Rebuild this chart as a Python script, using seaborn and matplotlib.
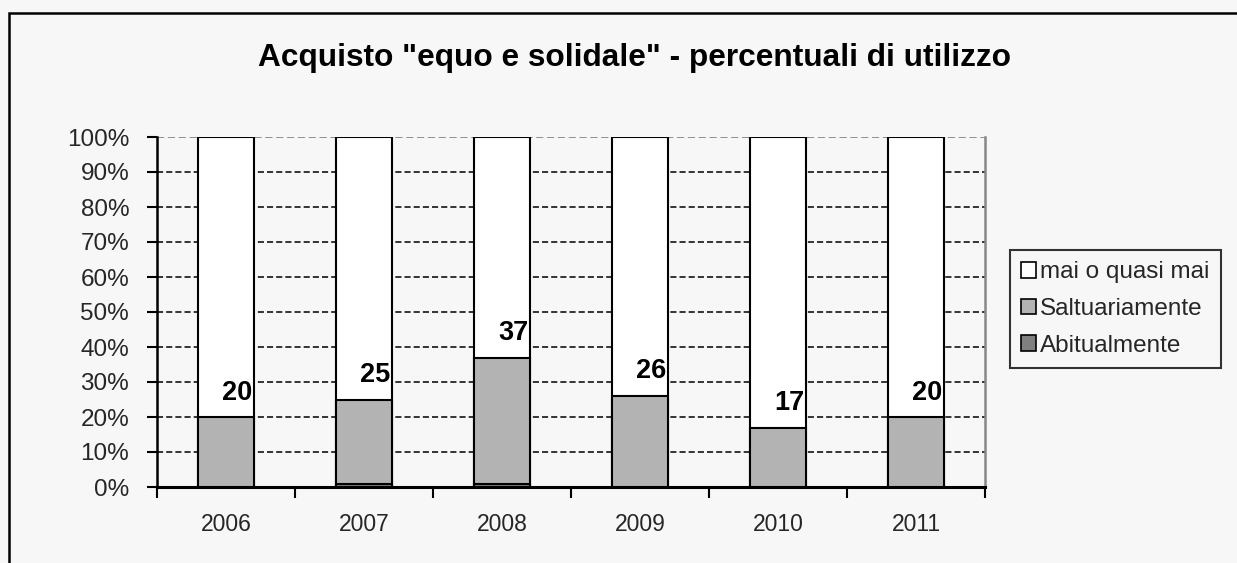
import matplotlib
matplotlib.use("Agg")
import matplotlib.pyplot as plt
import seaborn as sns
import pandas as pd
from matplotlib.patches import Rectangle, Patch
from matplotlib.ticker import FixedLocator, PercentFormatter

years = ["2006", "2007", "2008", "2009", "2010", "2011"]
abitualmente = [0, 1, 1, 0, 0, 0]
saltuariamente = [20, 24, 36, 26, 17, 20]
mai = [80, 75, 63, 74, 83, 80]
labels = [20, 25, 37, 26, 17, 20]
series_names = ["mai o quasi mai", "Saltuariamente", "Abitualmente"]
title = 'Acquisto "equo e solidale" - percentuali di utilizzo'

bg = "#f7f7f7"
c_mai, c_salt, c_abit = "#ffffff", "#b3b3b3", "#808080"

sns.set_theme(style="white")
plt.rcParams["font.family"] = ["Liberation Sans", "DejaVu Sans"]

df = pd.DataFrame({
    "year": years,
    "abit": abitualmente,
    "salt": saltuariamente,
    "mai": mai,
})
df["top_salt"] = df["abit"] + df["salt"]
df["top_mai"] = df["top_salt"] + df["mai"]

fig = plt.figure(figsize=(12.37, 5.63), dpi=100, facecolor=bg)
ax = fig.add_axes([157/1237, 1-487/563, (985-157)/1237, (487-137)/563])
ax.set_facecolor(bg)

kw = dict(width=0.405, edgecolor="black", linewidth=1.5, ax=ax, zorder=3)
sns.barplot(data=df, x="year", y="top_mai", color=c_mai, saturation=1, **kw)
sns.barplot(data=df, x="year", y="top_salt", color=c_salt, saturation=1, **kw)
sns.barplot(data=df, x="year", y="abit", color=c_abit, saturation=1, **kw)
for p in ax.patches:
    if p.get_height() == 0:
        p.set_visible(False)

for i, (lab, tot) in enumerate(zip(labels, df["top_salt"])):
    ax.text(i + 0.08, tot + 7, str(lab), ha="center", va="center",
            fontsize=19.5, fontweight="bold", color="black", zorder=5)

ax.set_xlim(-0.5, 5.5)
ax.set_ylim(0, 100)
ax.set_xlabel("")
ax.set_ylabel("")
ax.yaxis.set_major_locator(FixedLocator(list(range(0, 101, 10))))
ax.yaxis.set_major_formatter(PercentFormatter(decimals=0))
for y in range(10, 100, 10):
    ax.axhline(y, color="black", linestyle=(0, (4, 2)), linewidth=1.1, zorder=1)
ax.axhline(100, color="#888888", linestyle=(0, (4, 2)), linewidth=1.3, zorder=1)

ax.tick_params(axis="y", which="major", direction="out", length=7, width=1.5,
               color="black", labelsize=17.5, pad=13, left=True)
ax.tick_params(axis="x", which="major", length=0, labelsize=16.5, pad=19)
ax.set_xticks(range(len(years)))
ax.set_xticklabels(years)
ax.xaxis.set_minor_locator(FixedLocator([i - 0.5 for i in range(len(years) + 1)]))
ax.tick_params(axis="x", which="minor", direction="out", length=8, width=1.5,
               color="black", bottom=True)

ax.spines["top"].set_visible(False)
ax.spines["left"].set_color("black")
ax.spines["left"].set_linewidth(1.8)
ax.spines["bottom"].set_color("black")
ax.spines["bottom"].set_linewidth(2.2)
ax.spines["right"].set_color("#888888")
ax.spines["right"].set_linewidth(1.8)

fig.text(635/1237, 1-58/563, title, ha="center", va="center",
         fontsize=22.8, fontweight="bold", color="black")

# outer chart frame (extends past right/bottom edges)
fig.patches.append(Rectangle((9/1237, -0.2), 1.2, 1.2 - 13/563,
                             transform=fig.transFigure, fill=False,
                             edgecolor="black", linewidth=1.8, zorder=0))

handles = [Patch(facecolor=c, edgecolor="black", linewidth=1.2)
           for c in [c_mai, c_salt, c_abit]]
leg = fig.legend(handles, series_names, loc="center left",
                 bbox_to_anchor=(1010/1237, 1-309/563), frameon=True,
                 fontsize=17.5, handlelength=0.6, handleheight=0.6,
                 handletextpad=0.2, labelspacing=0.6, borderpad=0.45,
                 borderaxespad=0, fancybox=False, facecolor=bg, edgecolor="black")
leg.get_frame().set_linewidth(1.5)

fig.savefig("out.png", dpi=100, facecolor=bg)
